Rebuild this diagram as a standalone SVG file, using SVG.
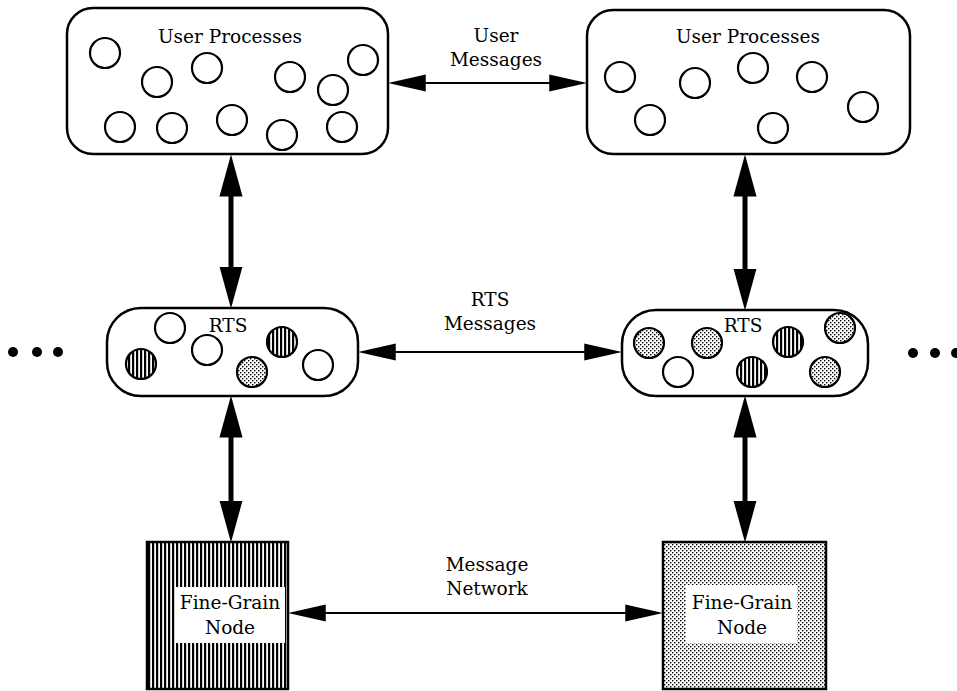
<svg xmlns="http://www.w3.org/2000/svg" width="957" height="691" viewBox="0 0 957 691">
  <style>
    .box { fill: #fff; stroke: #000; stroke-width: 2.5; }
    .proc { fill: #fff; stroke: #000; stroke-width: 2.2; }
    .striped { fill: url(#stripes); stroke: #000; stroke-width: 2.2; }
    .dotted { fill: url(#dots); stroke: #000; stroke-width: 2.2; }
    .label { font-family: "DejaVu Serif", "Liberation Serif", serif; font-size: 18.5px; fill: #000; text-anchor: middle; }
    .thick { stroke: #000; stroke-width: 5; fill: none; }
    .thin { stroke: #000; stroke-width: 2; fill: none; }
  </style>
  <defs>
    <pattern id="stripes" width="4" height="4" patternUnits="userSpaceOnUse">
      <rect width="4" height="4" fill="#fff"/>
      <rect width="2.2" height="4" fill="#000"/>
    </pattern>
    <pattern id="dots" width="4" height="4" patternUnits="userSpaceOnUse">
      <rect width="4" height="4" fill="#fff"/>
      <rect x="0" y="0" width="1.4" height="1.4" fill="#000"/>
      <rect x="2" y="2" width="1.4" height="1.4" fill="#000"/>
    </pattern>
    <marker id="headThick" markerUnits="userSpaceOnUse" markerWidth="42" markerHeight="24" viewBox="0 0 40 22" refX="30" refY="11" orient="auto-start-reverse">
      <path d="M0,0 L40,11 L0,22 z" fill="#000"/>
    </marker>
    <marker id="headThin" markerUnits="userSpaceOnUse" markerWidth="38" markerHeight="18" viewBox="0 0 36 16" refX="32" refY="8" orient="auto-start-reverse">
      <path d="M0,0 L36,8 L0,16 z" fill="#000"/>
    </marker>
  </defs>

  <rect width="957" height="691" fill="#fff"/>

  <!-- user process layer, left -->
  <g id="user-left">
    <rect class="box" x="67" y="8" width="321" height="146" rx="26"/>
    <text class="label" x="230" y="43">User Processes</text>
    <circle class="proc" cx="105" cy="53" r="15"/>
    <circle class="proc" cx="157" cy="82" r="15"/>
    <circle class="proc" cx="207" cy="68" r="15"/>
    <circle class="proc" cx="290" cy="77" r="15"/>
    <circle class="proc" cx="333" cy="90" r="15"/>
    <circle class="proc" cx="363" cy="60" r="15"/>
    <circle class="proc" cx="120" cy="127" r="15"/>
    <circle class="proc" cx="172" cy="128" r="15"/>
    <circle class="proc" cx="232" cy="120" r="15"/>
    <circle class="proc" cx="282" cy="135" r="15"/>
    <circle class="proc" cx="342" cy="127" r="15"/>
  </g>

  <!-- user process layer, right -->
  <g id="user-right">
    <rect class="box" x="587" y="10" width="323" height="144" rx="26"/>
    <text class="label" x="748" y="43">User Processes</text>
    <circle class="proc" cx="620" cy="77" r="15"/>
    <circle class="proc" cx="650" cy="120" r="15"/>
    <circle class="proc" cx="695" cy="83" r="15"/>
    <circle class="proc" cx="753" cy="68" r="15"/>
    <circle class="proc" cx="812" cy="77" r="15"/>
    <circle class="proc" cx="863" cy="107" r="15"/>
    <circle class="proc" cx="773" cy="128" r="15"/>
  </g>

  <!-- runtime system, left -->
  <g id="rts-left">
    <rect class="box" x="107" y="308" width="251" height="88" rx="34"/>
    <text class="label" x="228" y="332">RTS</text>
    <circle class="proc" cx="170" cy="328" r="15"/>
    <circle class="proc" cx="207" cy="350" r="15"/>
    <circle class="striped" cx="141" cy="364" r="15"/>
    <circle class="striped" cx="282" cy="342" r="15"/>
    <circle class="dotted" cx="252" cy="372" r="15"/>
    <circle class="proc" cx="318" cy="365" r="15"/>
  </g>

  <!-- runtime system, right -->
  <g id="rts-right">
    <rect class="box" x="622" y="310" width="246" height="86" rx="34"/>
    <text class="label" x="743" y="332">RTS</text>
    <circle class="dotted" cx="649" cy="343" r="15"/>
    <circle class="proc" cx="678" cy="372" r="15"/>
    <circle class="dotted" cx="707" cy="343" r="15"/>
    <circle class="striped" cx="788" cy="342" r="15"/>
    <circle class="dotted" cx="840" cy="328" r="15"/>
    <circle class="striped" cx="752" cy="372" r="15"/>
    <circle class="dotted" cx="825" cy="372" r="15"/>
  </g>

  <!-- fine-grain hardware node, left -->
  <g id="node-left">
    <rect x="147" y="542" width="141" height="147" fill="url(#stripes)" stroke="#000" stroke-width="2.5"/>
    <rect x="176" y="587" width="109" height="56" fill="#fff"/>
    <text class="label" x="230" y="609">Fine-Grain</text>
    <text class="label" x="230" y="634">Node</text>
  </g>

  <!-- fine-grain hardware node, right -->
  <g id="node-right">
    <rect x="663" y="542" width="163" height="147" fill="url(#dots)" stroke="#000" stroke-width="2.5"/>
    <rect x="686" y="585" width="111" height="58" fill="#fff"/>
    <text class="label" x="742" y="609">Fine-Grain</text>
    <text class="label" x="742" y="634">Node</text>
  </g>

  <!-- continuation dots -->
  <g id="more-left">
    <circle cx="13" cy="352" r="5"/>
    <circle cx="37" cy="352" r="5"/>
    <circle cx="58" cy="352" r="5"/>
  </g>
  <g id="more-right">
    <circle cx="913" cy="353" r="5"/>
    <circle cx="935" cy="353" r="5"/>
    <circle cx="956" cy="353" r="5"/>
  </g>

  <!-- connectors -->
  <g id="connectors">
    <line class="thick" x1="231" y1="165" x2="231" y2="298" marker-start="url(#headThick)" marker-end="url(#headThick)"/>
    <line class="thick" x1="231" y1="406" x2="231" y2="532" marker-start="url(#headThick)" marker-end="url(#headThick)"/>
    <line class="thick" x1="745" y1="165" x2="745" y2="300" marker-start="url(#headThick)" marker-end="url(#headThick)"/>
    <line class="thick" x1="745" y1="406" x2="745" y2="532" marker-start="url(#headThick)" marker-end="url(#headThick)"/>
    <line class="thin" x1="392" y1="83" x2="583" y2="83" marker-start="url(#headThin)" marker-end="url(#headThin)"/>
    <line class="thin" x1="362" y1="352" x2="618" y2="352" marker-start="url(#headThin)" marker-end="url(#headThin)"/>
    <line class="thin" x1="292" y1="613" x2="659" y2="613" marker-start="url(#headThin)" marker-end="url(#headThin)"/>
    <text class="label" x="496" y="42">User</text>
    <text class="label" x="496" y="66">Messages</text>
    <text class="label" x="490" y="306">RTS</text>
    <text class="label" x="490" y="330">Messages</text>
    <text class="label" x="487" y="571">Message</text>
    <text class="label" x="487" y="595">Network</text>
  </g>
</svg>
